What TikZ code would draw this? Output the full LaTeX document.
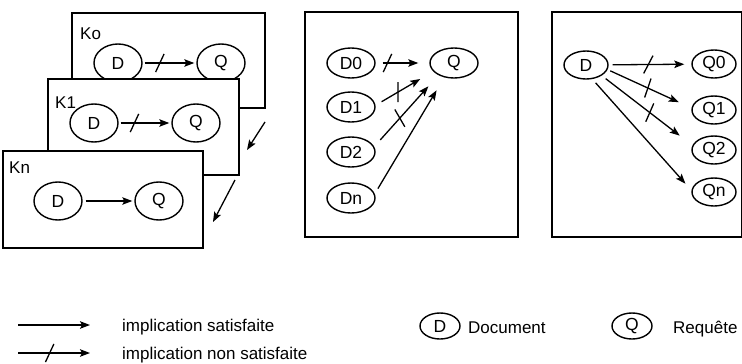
\documentclass[tikz,border=0pt]{standalone}
\usepackage{fontspec}
\setmainfont{Liberation Sans}
\usetikzlibrary{shapes.geometric,arrows.meta,decorations.markings}
\tikzset{
  box/.style={draw, line width=1.5pt, fill=white},
  ell/.style={draw, ellipse, line width=1.4pt, inner sep=0pt, fill=white, font=\fontsize{17.5}{19}\selectfont},
  bigell/.style={ell, minimum width=48pt, minimum height=38pt},
  midell/.style={ell, minimum width=48pt, minimum height=30pt},
  smlell/.style={ell, minimum width=44pt, minimum height=28pt},
  legell/.style={ell, minimum width=40pt, minimum height=26pt},
  arr/.style={line width=1.3pt, -{Stealth[length=10pt,width=7.5pt,inset=2pt]}},
  nosat/.style 2 args={arr, postaction={decorate}, decoration={markings, mark=at position #1 with {\draw[-, line width=1.3pt, shorten <=0pt, shorten >=0pt] (#2+180:10pt) -- (#2:10pt);}}},
  lbl/.style={font=\fontsize{17}{19}\selectfont, inner sep=0pt, anchor=base west},
  leg/.style={font=\fontsize{17}{19}\selectfont, inner sep=0pt, anchor=base west},
}
\begin{document}
\begin{tikzpicture}[x=1pt,y=1pt]
\useasboundingbox (0,0) rectangle (742,-364);

% ---- panel 1: stacked boxes
\draw[box] (72,-13) rectangle (265,-108);
\node[lbl] (lko) at (80,-39) {Ko};
\node[bigell] (kod) at (118,-63) {D};
\node[bigell] (koq) at (221,-63) {Q};
\draw[nosat={0.32}{65}, shorten <=2pt, shorten >=2pt] (kod) -- (koq);

\draw[box] (48,-79) rectangle (239,-175);
\node[lbl] (lk1) at (55,-108) {K1};
\node[bigell] (k1d) at (94,-123) {D};
\node[bigell] (k1q) at (196,-123) {Q};
\draw[nosat={0.3}{65}, shorten <=2pt, shorten >=2pt] (k1d) -- (k1q);

\draw[box] (3,-151) rectangle (203,-248);
\node[lbl] (lkn) at (9,-173) {Kn};
\node[bigell] (knd) at (58,-201) {D};
\node[bigell] (knq) at (159,-201) {Q};
\draw[arr, shorten <=3pt, shorten >=2pt] (knd) -- (knq);

\coordinate (a1s) at (265,-122);
\coordinate (a1e) at (247,-150);
\coordinate (a2s) at (235,-180);
\coordinate (a2e) at (213,-222);
\draw[arr] (a1s) -- (a1e);
\draw[arr] (a2s) -- (a2e);

% ---- panel 2
\draw[box] (305,-12) rectangle (518,-237);
\node[midell] (d0) at (351,-63) {D0};
\node[midell] (d1) at (351,-107) {D1};
\node[midell] (d2) at (351,-152) {D2};
\node[midell] (dn) at (351,-198) {Dn};
\node[midell] (q) at (454,-63) {Q};
\draw[nosat={0.22}{65}, shorten <=7pt, shorten >=11pt] (d0) -- (q);
\draw[nosat={0.39}{60}, shorten <=7pt, shorten >=15pt] (d1.4) -- (q.202);
\draw[nosat={0.4}{72}, shorten <=9pt, shorten >=15pt] (d2.13) -- (q.218);
\draw[arr, shorten <=6pt, shorten >=15pt] (dn.10) -- (q.236);

% ---- panel 3
\draw[box] (552,-12) rectangle (741.5,-237);
\node[smlell] (d) at (586,-65) {D};
\node[smlell] (q0) at (714,-64) {Q0};
\node[smlell] (q1) at (714,-110) {Q1};
\node[smlell] (q2) at (714,-150) {Q2};
\node[smlell] (qn) at (714,-192) {Qn};
\draw[nosat={0.48}{62}, shorten <=4pt, shorten >=7pt] (d) -- (q0);
\draw[nosat={0.48}{96}, shorten <=3pt, shorten >=14pt] (d.-12) -- (q1.175);
\draw[nosat={0.53}{104}, shorten <=5pt, shorten >=16pt] (d.-34) -- (q2.168);
\draw[arr, shorten <=5pt, shorten >=9pt] (d.-66) -- (qn.176);

% ---- legend
\coordinate (l1s) at (18,-325);
\coordinate (l1e) at (90,-325);
\coordinate (l2s) at (18,-353);
\coordinate (l2e) at (90,-353);
\draw[arr] (l1s) -- (l1e);
\draw[nosat={0.44}{65}] (l2s) -- (l2e);
\node[leg] (t1) at (122,-331) {implication satisfaite};
\node[leg] (t2) at (122,-359) {implication non satisfaite};
\node[legell] (ld) at (440,-326) {D};
\node[leg] (tdoc) at (468,-333) {Document};
\node[legell] (lq) at (632,-326) {Q};
\node[leg] (treq) at (673,-333) {Requête};
\end{tikzpicture}
\end{document}
